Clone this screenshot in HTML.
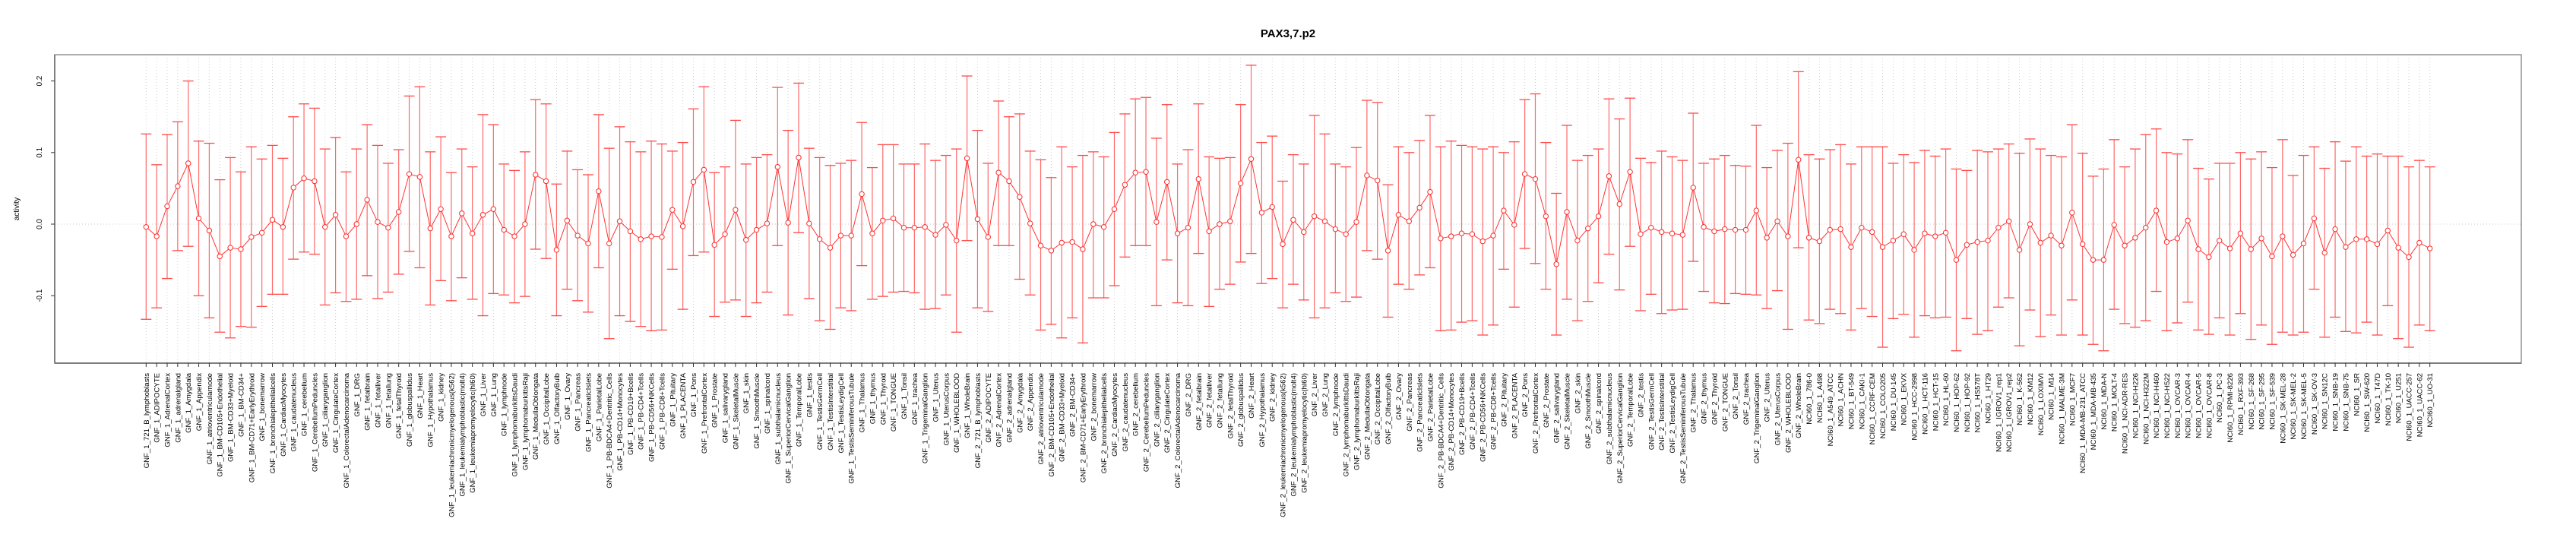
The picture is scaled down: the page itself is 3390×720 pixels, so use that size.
<!DOCTYPE html>
<html><head><meta charset="utf-8"><title>PAX3,7.p2</title>
<style>
html,body{margin:0;padding:0;background:#fff;}
svg{display:block;font-family:"Liberation Sans",Arial,sans-serif;}
</style></head>
<body>
<svg id="chart" width="3390" height="720" viewBox="0 0 3390 720" xmlns="http://www.w3.org/2000/svg">
<rect x="0" y="0" width="3390" height="720" fill="#fff"/>
<text x="1695" y="49" text-anchor="middle" font-size="15" font-weight="bold" fill="#000">PAX3,7.p2</text>
<g id="grid"></g>
<g id="bars"></g>
<g id="series"></g>
<g id="axes"></g>
<text transform="translate(25,275) rotate(-90)" text-anchor="middle" font-size="10" fill="#000">activity</text>
</svg>
<script>
const tissues = ["721_B_lymphoblasts","ADIPOCYTE","AdrenalCortex","adrenalgland","Amygdala","Appendix","atrioventricularnode","BM-CD105+Endothelial","BM-CD33+Myeloid","BM-CD34+","BM-CD71+EarlyErythroid","bonemarrow","bronchialepithelialcells","CardiacMyocytes","caudatenucleus","cerebellum","CerebellumPeduncles","ciliaryganglion","CingulateCortex","ColorectalAdenocarcinoma","DRG","fetalbrain","fetalliver","fetallung","fetalThyroid","globuspallidus","Heart","Hypothalamus","kidney","leukemiachronicmyelogenous(k562)","leukemialymphoblastic(molt4)","leukemiapromyelocytic(hl60)","Liver","Lung","lymphnode","lymphomaburkittsDaudi","lymphomaburkittsRaji","MedullaOblongata","OccipitalLobe","OlfactoryBulb","Ovary","Pancreas","PancreaticIslets","ParietalLobe","PB-BDCA4+Dentritic_Cells","PB-CD14+Monocytes","PB-CD19+Bcells","PB-CD4+Tcells","PB-CD56+NKCells","PB-CD8+Tcells","Pituitary","PLACENTA","Pons","PrefrontalCortex","Prostate","salivarygland","SkeletalMuscle","skin","SmoothMuscle","spinalcord","subthalamicnucleus","SuperiorCervicalGanglion","TemporalLobe","testis","TestisGermCell","TestisInterstitial","TestisLeydigCell","TestisSeminiferousTubule","Thalamus","thymus","Thyroid","TONGUE","Tonsil","trachea","TrigeminalGanglion","Uterus","UterusCorpus","WHOLEBLOOD","WholeBrain"];
const cellLines = ["786-0","A498","A549_ATCC","ACHN","BT-549","CAKI-1","CCRF-CEM","COLO205","DU-145","EKVX","HCC-2998","HCT-116","HCT-15","HL-60","HOP-62","HOP-92","HS578T","HT29","IGROV1_rep1","IGROV1_rep2","K-562","KM12","LOXIMVI","M14","MALME-3M","MCF7","MDA-MB-231_ATCC","MDA-MB-435","MDA-N","MOLT-4","NCI-ADR-RES","NCI-H226","NCI-H322M","NCI-H460","NCI-H522","OVCAR-3","OVCAR-4","OVCAR-5","OVCAR-8","PC-3","RPMI-8226","RXF-393","SF-268","SF-295","SF-539","SK-MEL-28","SK-MEL-2","SK-MEL-5","SK-OV-3","SN12C","SNB-19","SNB-75","SR","SW-620","T47D","TK-10","U251","UACC-257","UACC-62","UO-31"];
const categories = tissues.map(t => "GNF_1_" + t).concat(tissues.map(t => "GNF_2_" + t), cellLines.map(c => "NCI60_1_" + c));

const meanValues = [
-0.004,-0.017,0.025,0.053,0.085,0.008,-0.009,-0.045,-0.033,-0.035,-0.018,-0.012,0.006,-0.004,0.051,0.064,0.060,-0.004,0.013,-0.017,
0.000,0.034,0.003,-0.005,0.017,0.070,0.066,-0.006,0.021,-0.017,0.015,-0.013,0.013,0.021,-0.008,-0.017,0.000,0.069,0.060,-0.036,
0.005,-0.016,-0.027,0.046,-0.027,0.004,-0.010,-0.021,-0.017,-0.018,0.020,-0.003,0.059,0.076,-0.029,-0.014,0.020,-0.022,-0.008,0.001,
0.080,0.002,0.093,0.001,-0.021,-0.033,-0.016,-0.016,0.042,-0.013,0.005,0.008,-0.005,-0.005,-0.004,-0.015,-0.001,-0.023,0.092,
0.007,-0.018,0.072,0.060,0.038,0.001,-0.030,-0.037,-0.026,-0.025,-0.035,0.000,-0.004,0.021,0.055,0.072,0.073,0.003,0.059,-0.013,
-0.005,0.063,-0.010,0.000,0.004,0.057,0.091,0.016,0.024,-0.028,0.006,-0.011,0.011,0.004,-0.007,-0.014,0.003,0.068,0.061,-0.037,
0.013,0.004,0.023,0.045,-0.020,-0.017,-0.013,-0.014,-0.024,-0.016,0.019,-0.001,0.070,0.063,0.011,-0.056,0.017,-0.023,-0.006,0.011,
0.067,0.028,0.073,-0.014,-0.005,-0.011,-0.013,-0.015,0.051,-0.004,-0.010,-0.007,-0.008,-0.008,0.019,-0.019,0.004,-0.017,0.090,
-0.019,-0.024,-0.008,-0.007,-0.032,-0.005,-0.011,-0.032,-0.023,-0.014,-0.036,-0.013,-0.017,-0.012,-0.050,-0.029,-0.025,-0.023,-0.005,0.004,
-0.036,0.000,-0.026,-0.016,-0.030,0.016,-0.028,-0.050,-0.050,-0.001,-0.030,-0.019,-0.005,0.019,-0.025,-0.020,0.005,-0.035,-0.046,-0.023,
-0.034,-0.013,-0.035,-0.020,-0.045,-0.017,-0.043,-0.027,0.008,-0.040,-0.007,-0.032,-0.021,-0.021,-0.028,-0.009,-0.033,-0.046,-0.026,-0.034];

const upperValues = [
0.126,0.083,0.125,0.143,0.200,0.116,0.113,0.062,0.093,0.073,0.108,0.091,0.110,0.092,0.150,0.168,0.162,0.105,0.121,0.073,
0.105,0.139,0.110,0.085,0.104,0.179,0.192,0.101,0.122,0.072,0.105,0.080,0.153,0.139,0.084,0.075,0.101,0.174,0.168,0.056,
0.102,0.076,0.069,0.153,0.106,0.136,0.115,0.101,0.116,0.112,0.102,0.114,0.161,0.192,0.072,0.080,0.145,0.084,0.093,0.097,
0.191,0.131,0.197,0.106,0.093,0.082,0.085,0.089,0.142,0.079,0.111,0.111,0.084,0.084,0.112,0.089,0.096,0.105,0.207,
0.131,0.085,0.172,0.150,0.154,0.102,0.090,0.065,0.108,0.080,0.096,0.101,0.094,0.128,0.154,0.175,0.177,0.120,0.167,0.084,
0.104,0.168,0.094,0.092,0.093,0.167,0.222,0.114,0.123,0.060,0.097,0.084,0.152,0.126,0.084,0.080,0.107,0.173,0.170,0.055,
0.108,0.100,0.117,0.152,0.108,0.116,0.110,0.108,0.105,0.108,0.100,0.115,0.174,0.182,0.114,0.043,0.138,0.089,0.096,0.105,
0.175,0.147,0.176,0.092,0.086,0.102,0.094,0.089,0.155,0.085,0.091,0.096,0.082,0.081,0.138,0.079,0.103,0.113,0.213,
0.097,0.091,0.104,0.111,0.084,0.108,0.108,0.108,0.085,0.097,0.086,0.103,0.095,0.105,0.077,0.075,0.103,0.101,0.105,0.112,
0.099,0.119,0.105,0.096,0.094,0.139,0.099,0.067,0.077,0.118,0.080,0.105,0.125,0.133,0.100,0.098,0.118,0.078,0.063,0.085,
0.085,0.100,0.091,0.101,0.079,0.118,0.068,0.096,0.108,0.078,0.115,0.088,0.108,0.095,0.098,0.095,0.095,0.080,0.089,0.080];

const lowerValues = [
-0.133,-0.117,-0.076,-0.037,-0.031,-0.100,-0.131,-0.151,-0.159,-0.143,-0.144,-0.115,-0.098,-0.098,-0.049,-0.039,-0.042,-0.113,-0.096,-0.108,
-0.105,-0.072,-0.104,-0.095,-0.070,-0.038,-0.061,-0.113,-0.079,-0.107,-0.075,-0.105,-0.128,-0.097,-0.099,-0.110,-0.101,-0.035,-0.048,-0.128,
-0.091,-0.107,-0.123,-0.061,-0.160,-0.128,-0.136,-0.143,-0.149,-0.148,-0.063,-0.119,-0.044,-0.039,-0.129,-0.109,-0.106,-0.129,-0.110,-0.095,
-0.030,-0.127,-0.012,-0.104,-0.135,-0.147,-0.117,-0.121,-0.058,-0.105,-0.101,-0.095,-0.094,-0.096,-0.119,-0.118,-0.099,-0.151,-0.023,
-0.117,-0.122,-0.030,-0.030,-0.077,-0.099,-0.148,-0.140,-0.159,-0.131,-0.166,-0.103,-0.103,-0.086,-0.046,-0.030,-0.030,-0.114,-0.050,-0.110,
-0.114,-0.041,-0.115,-0.091,-0.084,-0.053,-0.041,-0.083,-0.076,-0.117,-0.084,-0.106,-0.131,-0.117,-0.096,-0.108,-0.102,-0.037,-0.049,-0.130,
-0.084,-0.091,-0.071,-0.061,-0.149,-0.148,-0.137,-0.135,-0.155,-0.141,-0.063,-0.116,-0.034,-0.055,-0.091,-0.155,-0.105,-0.135,-0.108,-0.082,
-0.042,-0.092,-0.031,-0.121,-0.098,-0.125,-0.120,-0.119,-0.052,-0.094,-0.110,-0.111,-0.097,-0.098,-0.099,-0.118,-0.093,-0.147,-0.033,
-0.134,-0.139,-0.119,-0.125,-0.148,-0.118,-0.129,-0.172,-0.132,-0.126,-0.158,-0.128,-0.131,-0.130,-0.177,-0.132,-0.154,-0.149,-0.116,-0.103,
-0.170,-0.120,-0.157,-0.127,-0.155,-0.106,-0.155,-0.168,-0.177,-0.119,-0.139,-0.144,-0.135,-0.094,-0.149,-0.138,-0.109,-0.148,-0.154,-0.131,
-0.155,-0.125,-0.161,-0.141,-0.168,-0.151,-0.155,-0.151,-0.091,-0.158,-0.130,-0.150,-0.152,-0.137,-0.155,-0.114,-0.160,-0.172,-0.141,-0.149];

const yTicks = [0.2, 0.1, 0.0, -0.1];
const yTickLabels = ["0.2", "0.1", "0.0", "-0.1"];

const NS = "http://www.w3.org/2000/svg";
const plot = {left: 72, right: 3318, top: 72, bottom: 478};
const xFirst = 192.3, xLast = 3197.7;
const yDomain = {v0: 0.0, px0: 295, pxPerUnit: 942};
function xScale(i) { return xFirst + i * (xLast - xFirst) / (categories.length - 1); }
function yScale(v) { return yDomain.px0 - (v - yDomain.v0) * yDomain.pxPerUnit; }
function mk(tag, attrs, parent) {
  const el = document.createElementNS(NS, tag);
  for (const k in attrs) el.setAttribute(k, attrs[k]);
  parent.appendChild(el);
  return el;
}
const grid = document.getElementById('grid');
const bars = document.getElementById('bars');
const series = document.getElementById('series');
const axes = document.getElementById('axes');

// vertical category grid lines
categories.forEach((c, i) => {
  const x = xScale(i);
  const l = mk('line', {x1: x, x2: x, y1: plot.top, y2: plot.bottom, stroke: '#cfcfcf', 'stroke-width': 1, 'stroke-dasharray': '1,3'}, grid);
  
  
});
const zl = mk('line', {x1: plot.left, x2: plot.right, y1: yScale(0), y2: yScale(0), stroke: '#c8c8c8', 'stroke-width': 1, 'stroke-dasharray': '1,3'}, grid);



// error bars
categories.forEach((c, i) => {
  const x = xScale(i);
  const yu = yScale(upperValues[i]), yl = yScale(lowerValues[i]);
  const g = mk('g', {}, bars);
  
  
  mk('line', {x1: x, x2: x, y1: yu, y2: yl, stroke: '#ff6a6a', 'stroke-width': 1.2}, g);
  mk('line', {x1: x - 7, x2: x + 7, y1: yu, y2: yu, stroke: '#ff4a4a', 'stroke-width': 1.3}, g);
  mk('line', {x1: x - 7, x2: x + 7, y1: yl, y2: yl, stroke: '#ff4a4a', 'stroke-width': 1.3}, g);
});

// connecting line
let d = '';
meanValues.forEach((v, i) => { d += (i ? 'L' : 'M') + xScale(i).toFixed(2) + ',' + yScale(v).toFixed(2); });
const path = mk('path', {d: d, fill: 'none', stroke: '#ff3333', 'stroke-width': 1}, series);


meanValues.forEach((v, i) => {
  const c = mk('circle', {cx: xScale(i), cy: yScale(v), r: 3.2, fill: '#fff', stroke: '#ff2a2a', 'stroke-width': 1}, series);
  
  
});

// frame
const frame = mk('rect', {x: plot.left, y: plot.top, width: plot.right - plot.left, height: plot.bottom - plot.top, fill: 'none', stroke: '#999', 'stroke-width': 1.6}, axes);


const la = mk('line', {x1: plot.left, x2: plot.left, y1: plot.top, y2: plot.bottom, stroke: '#666', 'stroke-width': 1.4}, axes);


const ba = mk('line', {x1: plot.left, x2: plot.right, y1: plot.bottom, y2: plot.bottom, stroke: '#666', 'stroke-width': 1.4}, axes);



// y ticks
yTicks.forEach((v, i) => {
  const y = yScale(v);
  const t = mk('line', {x1: plot.left - 5, x2: plot.left, y1: y, y2: y, stroke: '#333', 'stroke-width': 1}, axes);
  
  
  const tx = mk('text', {transform: 'translate(55,' + y + ') rotate(-90)', 'text-anchor': 'middle', 'font-size': 10, fill: '#000'}, axes);
  tx.textContent = yTickLabels[i];
  
  
});

// x ticks + labels
categories.forEach((c, i) => {
  const x = xScale(i);
  const t = mk('line', {x1: x, x2: x, y1: plot.bottom, y2: plot.bottom + 5, stroke: '#333', 'stroke-width': 1}, axes);
  
  
  const tx = mk('text', {transform: 'translate(' + (x + 3.5) + ',491) rotate(-90)', 'text-anchor': 'end', 'font-size': 9.6, fill: '#000'}, axes);
  tx.textContent = c;
  
  
});
</script>
</body></html>
